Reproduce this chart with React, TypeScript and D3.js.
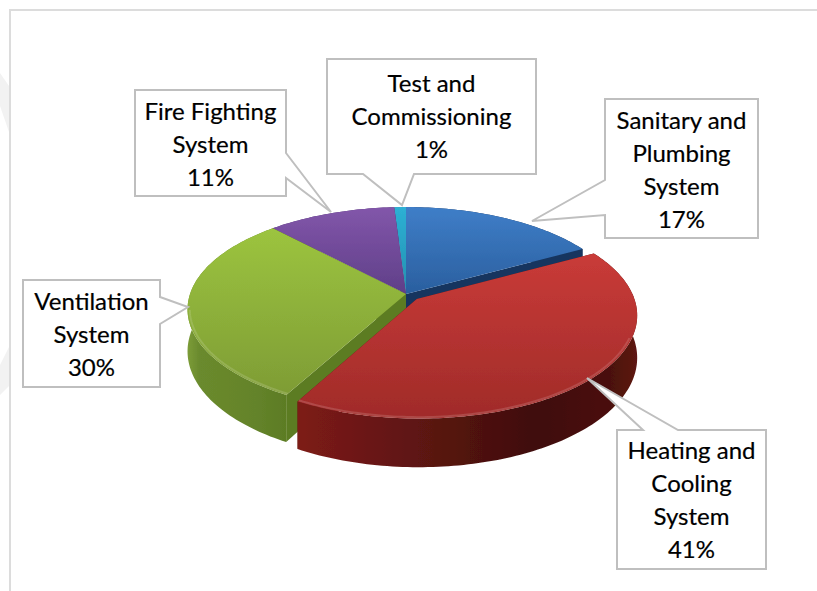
import React from "react";
import * as d3 from "d3";

const categories = ["Sanitary and Plumbing System", "Heating and Cooling System", "Ventilation System", "Fire Fighting System", "Test and Commissioning"];
const values = [17, 41, 30, 11, 1];
const labelLines = [
  ["Sanitary and", "Plumbing", "System", "17%"],
  ["Heating and", "Cooling", "System", "41%"],
  ["Ventilation", "System", "30%"],
  ["Fire Fighting", "System", "11%"],
  ["Test and", "Commissioning", "1%"],
];
const explode = [0, 0.07, 0, 0, 0];
const topColors = [
  ["#3f7ec8", "#2a5f9f"],
  ["#c93b38", "#a02b29"],
  ["#9cc43f", "#7e9c35"],
  ["#8256aa", "#5f3f88"],
  ["#2db0d4", "#2390b0"],
];
const wallStops = [
  [["0%", "#16355f"], ["100%", "#16355f"]],
  [["0%", "#7d1b18"], ["35%", "#5e1512"], ["70%", "#3f0e0b"], ["92%", "#4a110d"], ["100%", "#5e1612"]],
  [["0%", "#7c9c38"], ["12%", "#6a8a2d"], ["70%", "#64832a"], ["100%", "#5c7c24"]],
  [["0%", "#4f3370"], ["100%", "#4f3370"]],
  [["0%", "#1b7f9c"], ["100%", "#1b7f9c"]],
];
const edgeColors = ["#16355f", "#5a1512", "#5c7b22", "#4f3370", "#1b7f9c"];
// callout boxes: x0, y0, x1, y1, pointer start, tip, pointer end
const callouts = [
  { box: [605, 99, 758, 238], side: "left", a: 180, b: 215, tip: [532, 221] },
  { box: [617, 430, 766, 569], side: "top", a: 643, b: 678, tip: [587, 378] },
  { box: [23, 280, 160, 387], side: "right", a: 297, b: 324, tip: [188, 307] },
  { box: [135, 90, 286, 196], side: "right", a: 153, b: 178, tip: [331, 212] },
  { box: [327, 59, 536, 174], side: "bottom", a: 363, b: 414, tip: [402, 205] },
];
const firstBaselines = [129, 459, 310, 120, 92];

const CX = 406, CY = 294, A = 216, B = 100, K = 0.15, DEPTH = 41;
const project = (u: number, v: number, z = 0): [number, number] => {
  const w = 1 + K * v;
  return [CX + (A * u) / w, CY - (B * v) / w + (DEPTH * z) / w];
};
const line = d3.line<[number, number]>().x((d) => d[0]).y((d) => d[1]);
const arcs = d3.pie<number>().sort(null).startAngle(0).endAngle(2 * Math.PI)(values);

function slicePts(start: number, end: number, ox: number, oy: number, r: number, z: number) {
  const n = Math.max(2, Math.ceil((end - start) / 0.02));
  return d3.range(n + 1).map((i) => {
    const t = start + ((end - start) * i) / n;
    return project(ox + r * Math.sin(t), oy + r * Math.cos(t), z);
  });
}

function calloutPath(c: (typeof callouts)[number]) {
  const [x0, y0, x1, y1] = c.box;
  const pts: [number, number][] = [[x0, y0]];
  if (c.side === "top") pts.push([c.a, y0], c.tip as any, [c.b, y0]);
  pts.push([x1, y0]);
  if (c.side === "right") pts.push([x1, c.a], c.tip as any, [x1, c.b]);
  pts.push([x1, y1]);
  if (c.side === "bottom") pts.push([c.b, y1], c.tip as any, [c.a, y1]);
  pts.push([x0, y1]);
  if (c.side === "left") pts.push([x0, c.b], c.tip as any, [x0, c.a]);
  return line(pts) + "Z";
}

export default function App() {
  const order = [0, 4, 3, 2, 1];
  return (
    <svg width={817} height={591} style={{ position: "absolute", left: 0, top: 0 }} fontFamily="Lato, Carlito, sans-serif">
      <defs>
        {topColors.map((c, i) => (
          <linearGradient key={i} id={`top${i}`} x1="0" y1="0" x2="0" y2="1">
            <stop offset="0%" stopColor={c[0]} />
            <stop offset="100%" stopColor={c[1]} />
          </linearGradient>
        ))}
        {wallStops.map((s, i) => (
          <linearGradient key={i} id={`wall${i}`} x1="0" y1="0" x2="1" y2="0">
            {s.map(([o, col], j) => (
              <stop key={j} offset={o} stopColor={col} />
            ))}
          </linearGradient>
        ))}
        <filter id="soft" x="-5%" y="-5%" width="110%" height="110%">
          <feGaussianBlur stdDeviation="0.7" />
        </filter>
      </defs>
      <rect width={817} height={591} fill="#fff" />
      <path d="M0,73L9,86L9,132L0,106Z" fill="#f2f2f2" />
      <path d="M9,347L0,365L0,395L9,386Z" fill="#f2f2f2" />
      <path d="M817,10H10V591" fill="none" stroke="#dcdcdc" strokeWidth={2} />
      <g filter="url(#soft)">
        {order.map((i) => {
          const a = arcs[i];
          const ox = explode[i] * Math.sin((a.startAngle + a.endAngle) / 2);
          const oy = explode[i] * Math.cos((a.startAngle + a.endAngle) / 2);
          const apex = project(ox, oy, 0);
          const apexLow = project(ox, oy, 1);
          const rim = slicePts(a.startAngle, a.endAngle, ox, oy, 1, 0);
          const rimLow = slicePts(a.startAngle, a.endAngle, ox, oy, 1, 1);
          const wall = [...rim, ...rimLow.slice().reverse()];
          const e0 = [apex, rim[0], rimLow[0], apexLow];
          const e1 = [apex, rim[rim.length - 1], rimLow[rimLow.length - 1], apexLow];
          const bevelStart = Math.max(a.startAngle, Math.PI * 0.62);
          const bevelEnd = Math.min(a.endAngle, Math.PI * 1.45);
          const hasBevel = bevelEnd > bevelStart;
          return (
            <g key={i}>
              <path d={line(e0 as any) + "Z"} fill={edgeColors[i]} />
              <path d={line(e1 as any) + "Z"} fill={edgeColors[i]} />
              <path d={line(wall) + "Z"} fill={`url(#wall${i})`} />
              <path d={line([apex, ...rim]) + "Z"} fill={`url(#top${i})`} />
              {hasBevel && (
                <path
                  d={line(slicePts(bevelStart, bevelEnd, ox, oy, 0.99, 0)) || ""}
                  fill="none"
                  stroke="#fff"
                  strokeOpacity={0.14}
                  strokeWidth={2}
                />
              )}
            </g>
          );
        })}
      </g>
      {callouts.map((c, i) => (
        <g key={categories[i]}>
          <path d={calloutPath(c)} fill="#fff" stroke="#bfbfbf" strokeWidth={2} strokeLinejoin="miter" />
          {labelLines[i].map((t, j) => (
            <text
              key={j}
              x={(c.box[0] + c.box[2]) / 2}
              y={firstBaselines[i] + j * 33}
              textAnchor="middle"
              fontSize={24}
              fill="#000"
              stroke="#000"
              strokeWidth={0.2}
            >
              {t}
            </text>
          ))}
        </g>
      ))}
    </svg>
  );
}
